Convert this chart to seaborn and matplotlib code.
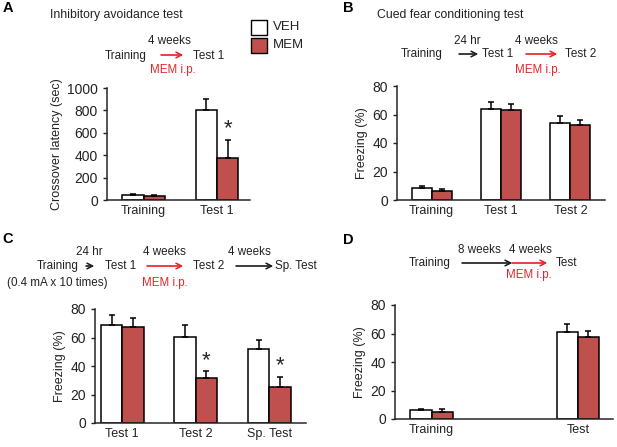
import numpy as np
import pandas as pd
import seaborn as sns
import matplotlib.pyplot as plt

sns.set_style("ticks")
plt.rcParams["font.family"] = ["Liberation Sans", "DejaVu Sans"]

groups = ["VEH", "MEM"]
colors = {"VEH": "white", "MEM": "#C0504D"}

# panel A - inhibitory avoidance
a_cats = ["Training", "Test 1"]
a_veh = [45, 805]
a_mem = [38, 375]
a_veh_err = [12, 100]
a_mem_err = [8, 165]

# panel B - cued fear conditioning
b_cats = ["Training", "Test 1", "Test 2"]
b_veh = [8.5, 64, 54]
b_mem = [6.5, 63, 52.5]
b_veh_err = [1.2, 4.5, 5]
b_mem_err = [1.5, 4.5, 3.5]

# panel C
c_cats = ["Test 1", "Test 2", "Sp. Test"]
c_veh = [69, 60.5, 52]
c_mem = [67.5, 31.5, 25]
c_veh_err = [7, 8, 6.5]
c_mem_err = [6, 5, 7.5]

# panel D
d_cats = ["Training", "Test"]
d_veh = [6, 61]
d_mem = [5, 57.5]
d_veh_err = [1.2, 5.5]
d_mem_err = [1.8, 4.5]

W, H = 617, 447
fig = plt.figure(figsize=(W / 100, H / 100), dpi=100)


def px(x, y):
    return x / W, 1 - y / H


def make_axes(l, t, r, b):
    return fig.add_axes([l / W, 1 - b / H, (r - l) / W, (b - t) / H])


def panel(ax, cats, veh, mem, veh_err, mem_err, ymax, yticks, ylabel,
          stars=(), order=None):
    df = pd.DataFrame({
        "cat": cats * 2,
        "group": ["VEH"] * len(cats) + ["MEM"] * len(cats),
        "value": veh + mem,
        "err": veh_err + mem_err,
    })
    sns.barplot(data=df, x="cat", y="value", hue="group", order=order or cats,
                hue_order=groups, palette=colors, saturation=1, width=0.58,
                gap=0, edgecolor="black", linewidth=1.1, errorbar=None,
                legend=False, ax=ax)
    for cont, g in zip(ax.containers, groups):
        sub = df[df["group"] == g]
        for bar, (_, row) in zip(cont, sub.iterrows()):
            x = bar.get_x() + bar.get_width() / 2
            ax.errorbar(x, row["value"], yerr=[[0], [row["err"]]], color="black",
                        capsize=2, elinewidth=1.1, capthick=1.1, zorder=1)
            if g == "MEM" and row["cat"] in stars:
                ax.annotate("*", xy=(x, row["value"] + row["err"]),
                            xytext=(0, 0), textcoords="offset points",
                            ha="center", va="bottom", fontsize=16)
    ax.set_ylim(0, ymax)
    ax.set_yticks(yticks)
    ax.set_xlabel("")
    ax.set_ylabel(ylabel, fontsize=9, color="#222222", labelpad=3)
    ax.tick_params(axis="y", labelsize=10, length=3, width=1, colors="#222222")
    ax.tick_params(axis="x", labelsize=9, length=0, colors="#222222")
    sns.despine(ax=ax)
    for s in ["left", "bottom"]:
        ax.spines[s].set_linewidth(1.1)


def txt(x, y, s, color="#222222", size=8.4, **kw):
    fig.text(*px(x, y), s, color=color, fontsize=size, ha="center",
             va="center", **kw)


def arrow(x0, x1, y, color="#222222"):
    fig.add_artist(plt.annotate("", xy=px(x1, y), xytext=px(x0, y),
                                xycoords="figure fraction",
                                arrowprops=dict(arrowstyle="->", color=color,
                                                lw=0.9, shrinkA=0, shrinkB=0)))


red = "#E8262A"

# A
axA = make_axes(107, 88, 250, 200)
panel(axA, a_cats, a_veh, a_mem, a_veh_err, a_mem_err, 1000,
      [0, 200, 400, 600, 800, 1000], "Crossover latency (sec)", stars=["Test 1"])
axA.set_xlim(-0.5, 1.45)

# B
axB = make_axes(397, 86, 605, 200)
panel(axB, b_cats, b_veh, b_mem, b_veh_err, b_mem_err, 80,
      [0, 20, 40, 60, 80], "Freezing (%)")
axB.set_xlim(-0.5, 2.5)

# C
axC = make_axes(95, 309, 306, 423)
panel(axC, c_cats, c_veh, c_mem, c_veh_err, c_mem_err, 80,
      [0, 20, 40, 60, 80], "Freezing (%)", stars=["Test 2", "Sp. Test"])
axC.set_xlim(-0.37, 2.5)

# D (empty slot between the two groups)
axD = make_axes(395, 305, 613, 419)
panel(axD, d_cats, d_veh, d_mem, d_veh_err, d_mem_err, 80,
      [0, 20, 40, 60, 80], "Freezing (%)", order=["Training", " ", "Test"])
axD.set_xlim(-0.5, 2.48)
axD.set_xticks([0, 2], d_cats)

# panel letters and titles
for letter, (x, y) in {"A": (8, 8), "B": (348, 8), "C": (8, 239), "D": (348, 240)}.items():
    txt(x, y, letter, size=10.5, weight="bold", color="black")
txt(116, 15, "Inhibitory avoidance test", size=8.8)
txt(450, 15, "Cued fear conditioning test", size=8.8)

# legend
for i, g in enumerate(groups):
    fig.add_artist(plt.Rectangle(px(251, 35 + i * 18), 16 / W, 15 / H,
                                 transform=fig.transFigure, facecolor=colors[g],
                                 edgecolor="black", lw=1))
    fig.text(*px(273, 27.5 + i * 18), g, fontsize=9.5, va="center", color="#222222")

# scheme A
txt(169, 41, "4 weeks")
txt(126, 56, "Training")
arrow(161, 183, 55, red)
txt(209, 56, "Test 1")
txt(173, 70, "MEM i.p.", color=red)

# scheme B
txt(467, 41, "24 hr")
txt(536, 41, "4 weeks")
txt(422, 54, "Training")
arrow(459, 478, 54)
txt(498, 54, "Test 1")
arrow(526, 557, 54, red)
txt(581, 54, "Test 2")
txt(538, 70, "MEM i.p.", color=red)

# scheme C
txt(89, 252, "24 hr")
txt(164, 252, "4 weeks")
txt(249, 252, "4 weeks")
txt(58, 266, "Training")
arrow(86, 94, 266)
txt(121, 266, "Test 1")
arrow(147, 183, 266, red)
txt(209, 266, "Test 2")
arrow(236, 273, 266)
txt(296, 266, "Sp. Test")
txt(57, 283, "(0.4 mA x 10 times)")
txt(165, 283, "MEM i.p.", color=red)

# scheme D
txt(479, 250, "8 weeks")
txt(530, 250, "4 weeks")
txt(430, 263, "Training")
arrow(462, 512, 263)
arrow(512, 547, 263, red)
txt(567, 263, "Test")
txt(529, 275, "MEM i.p.", color=red)

fig.savefig("out.png", dpi=100)
